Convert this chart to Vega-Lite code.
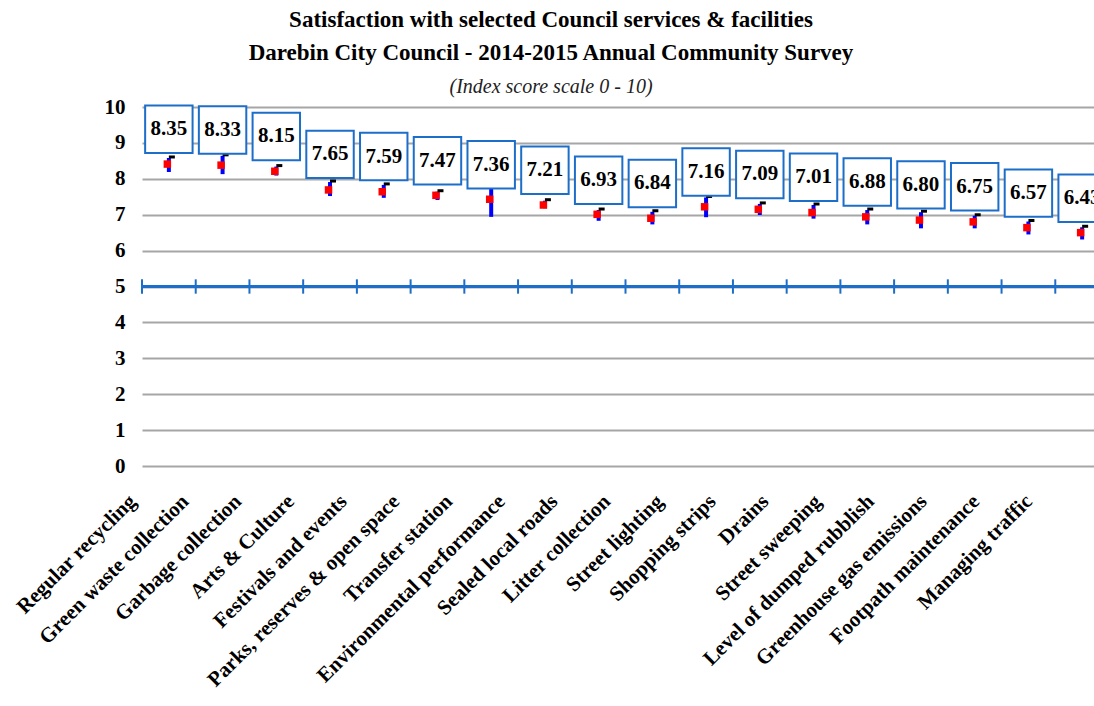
{
  "$schema": "https://vega.github.io/schema/vega-lite/v6.json",
  "width": 952,
  "height": 359,
  "autosize": {"type": "none"},
  "padding": {"left": 142, "top": 107, "right": 0, "bottom": 240},
  "title": {
    "text": ["Satisfaction with selected Council services & facilities", "Darebin City Council - 2014-2015 Annual Community Survey"],
    "subtitle": "(Index score scale 0 - 10)",
    "anchor": "middle",
    "dx": -67,
    "font": "Liberation Serif",
    "fontSize": 23,
    "fontWeight": "bold",
    "color": "black",
    "lineHeight": 33,
    "subtitleFont": "Liberation Serif",
    "subtitleFontSize": 20,
    "subtitleFontStyle": "italic",
    "subtitleColor": "#222222",
    "subtitlePadding": 12,
    "offset": -1
  },
  "data": {
    "values": [
      {"service": "Regular recycling", "score": 8.35, "lower": 8.19, "upper": 8.58, "mean": 8.41},
      {"service": "Green waste collection", "score": 8.33, "lower": 8.13, "upper": 8.64, "mean": 8.38},
      {"service": "Garbage collection", "score": 8.15, "lower": 8.09, "upper": 8.34, "mean": 8.21},
      {"service": "Arts & Culture", "score": 7.65, "lower": 7.52, "upper": 7.91, "mean": 7.69},
      {"service": "Festivals and events", "score": 7.59, "lower": 7.47, "upper": 7.83, "mean": 7.64},
      {"service": "Parks, reserves & open space", "score": 7.47, "lower": 7.41, "upper": 7.64, "mean": 7.54},
      {"service": "Transfer station", "score": 7.36, "lower": 6.94, "upper": 7.74, "mean": 7.43},
      {"service": "Environmental performance", "score": 7.21, "lower": 7.18, "upper": 7.39, "mean": 7.27},
      {"service": "Sealed local roads", "score": 6.93, "lower": 6.83, "upper": 7.13, "mean": 7.01},
      {"service": "Litter collection", "score": 6.84, "lower": 6.73, "upper": 7.08, "mean": 6.9},
      {"service": "Street lighting", "score": 7.16, "lower": 6.93, "upper": 7.48, "mean": 7.22},
      {"service": "Shopping strips", "score": 7.09, "lower": 6.99, "upper": 7.3, "mean": 7.15},
      {"service": "Drains", "score": 7.01, "lower": 6.89, "upper": 7.27, "mean": 7.06},
      {"service": "Street sweeping", "score": 6.88, "lower": 6.73, "upper": 7.13, "mean": 6.94},
      {"service": "Level of dumped rubblish", "score": 6.8, "lower": 6.62, "upper": 7.07, "mean": 6.85},
      {"service": "Greenhouse gas emissions", "score": 6.75, "lower": 6.62, "upper": 6.97, "mean": 6.8},
      {"service": "Footpath maintenance", "score": 6.57, "lower": 6.45, "upper": 6.81, "mean": 6.64},
      {"service": "Managing traffic", "score": 6.43, "lower": 6.31, "upper": 6.65, "mean": 6.5}
    ]
  },
  "layer": [
    {
      "mark": {"type": "rule", "color": "#0000ff", "strokeWidth": 4},
      "encoding": {
        "x": {"field": "service", "type": "nominal", "sort": null, "title": null,
              "scale": {"range": [0, 967], "paddingInner": 0, "paddingOuter": 0}},
        "y": {"field": "lower", "type": "quantitative", "title": null,
              "scale": {"domain": [0, 10], "nice": false, "zero": true},
              "axis": {"values": [0, 1, 2, 3, 4, 5, 6, 7, 8, 9, 10], "tickCount": 11, "labelOverlap": false, "title": null}},
        "y2": {"field": "upper"}
      }
    },
    {
      "mark": {"type": "rule", "color": "#1c6ec9", "strokeWidth": 2},
      "encoding": {
        "y": {"datum": 5, "type": "quantitative", "title": null,
              "axis": {"values": [0, 1, 2, 3, 4, 5, 6, 7, 8, 9, 10], "tickCount": 11, "labelOverlap": false, "title": null}}
      }
    },
    {
      "mark": {"type": "rule", "color": "#1c6ec9", "strokeWidth": 2},
      "encoding": {
        "x": {"field": "service", "type": "nominal", "sort": null, "bandPosition": 0, "title": null},
        "y": {"datum": 4.8, "type": "quantitative", "title": null,
              "axis": {"values": [0, 1, 2, 3, 4, 5, 6, 7, 8, 9, 10], "tickCount": 11, "labelOverlap": false, "title": null}},
        "y2": {"datum": 5.2}
      }
    },
    {
      "mark": {"type": "point", "shape": "square", "filled": true, "color": "#ff0000", "opacity": 1, "size": 56, "xOffset": -1.5},
      "encoding": {
        "x": {"field": "service", "type": "nominal", "sort": null, "title": null},
        "y": {"field": "mean", "type": "quantitative", "title": null,
              "axis": {"values": [0, 1, 2, 3, 4, 5, 6, 7, 8, 9, 10], "tickCount": 11, "labelOverlap": false, "title": null}}
      }
    },
    {
      "mark": {"type": "tick", "orient": "horizontal", "color": "#000000", "opacity": 1, "size": 6, "thickness": 3, "xOffset": 3, "yOffset": -1},
      "encoding": {
        "x": {"field": "service", "type": "nominal", "sort": null, "title": null},
        "y": {"field": "upper", "type": "quantitative", "title": null,
              "axis": {"values": [0, 1, 2, 3, 4, 5, 6, 7, 8, 9, 10], "tickCount": 11, "labelOverlap": false, "title": null}}
      }
    },
    {
      "mark": {"type": "point", "shape": "square", "filled": true, "fill": "white", "fillOpacity": 1, "stroke": "#1c6ec9", "strokeWidth": 2, "opacity": 1, "size": 2250, "yOffset": -37},
      "encoding": {
        "x": {"field": "service", "type": "nominal", "sort": null, "title": null},
        "y": {"field": "score", "type": "quantitative", "title": null,
              "axis": {"values": [0, 1, 2, 3, 4, 5, 6, 7, 8, 9, 10], "tickCount": 11, "labelOverlap": false, "title": null}}
      }
    },
    {
      "mark": {"type": "text", "font": "Liberation Serif", "fontSize": 21, "fontWeight": "bold", "color": "black", "dy": -37, "baseline": "middle", "align": "center"},
      "encoding": {
        "x": {"field": "service", "type": "nominal", "sort": null, "title": null},
        "y": {"field": "score", "type": "quantitative", "title": null,
              "axis": {"values": [0, 1, 2, 3, 4, 5, 6, 7, 8, 9, 10], "tickCount": 11, "labelOverlap": false, "title": null}},
        "text": {"field": "score", "type": "quantitative", "format": ".2f"}
      }
    }
  ],
  "config": {
    "view": {"stroke": null},
    "axisY": {
      "grid": true, "gridColor": "#a6a6a6", "gridWidth": 2, "domain": false, "ticks": false, "tickSize": 0,
      "labelFont": "Liberation Serif", "labelFontWeight": "bold", "labelFontSize": 21, "labelColor": "black", "labelPadding": 17,
      "labelOverlap": false
    },
    "axisX": {
      "grid": false, "domain": false, "ticks": false, "tickSize": 0,
      "labelAngle": -45, "labelAlign": "right", "labelBaseline": "middle",
      "labelFont": "Liberation Serif", "labelFontWeight": "bold", "labelFontSize": 21, "labelColor": "black",
      "labelPadding": 32, "labelOffset": {"expr": "-36 - 17*datum.index"}, "labelLimit": 400, "labelOverlap": false, "labelBound": false
    }
  }
}
